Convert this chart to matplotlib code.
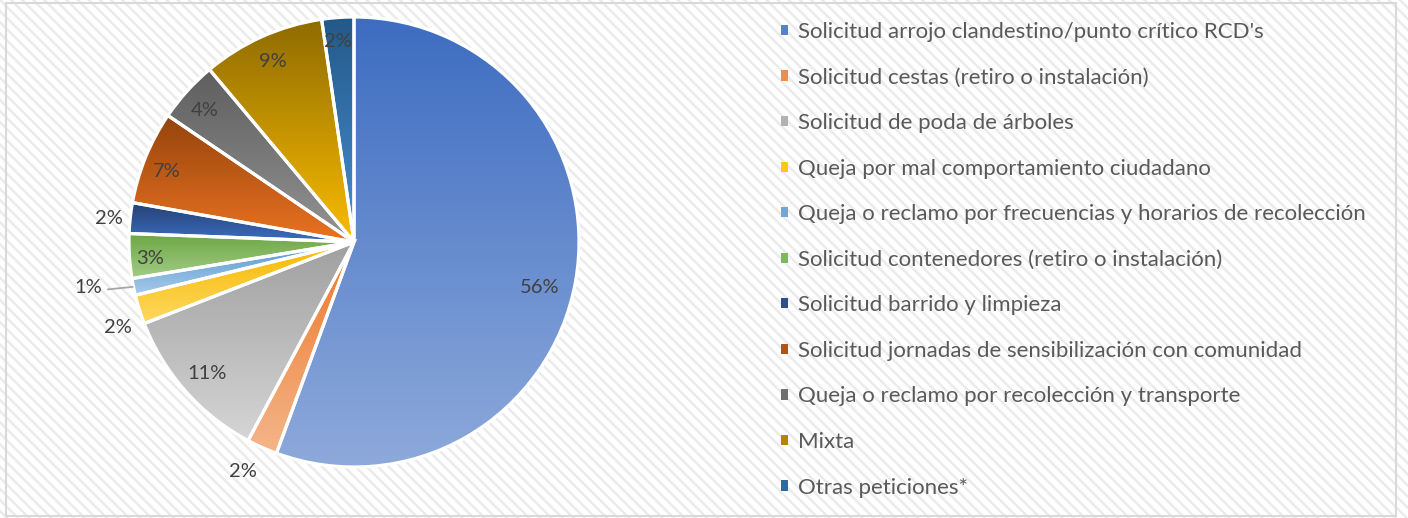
import colorsys
import numpy as np
import matplotlib
matplotlib.use('Agg')
import matplotlib.pyplot as plt
from matplotlib.patches import Rectangle, Patch
from matplotlib.colors import LinearSegmentedColormap, to_rgb

categories = [
    "Solicitud arrojo clandestino/punto crítico RCD's",
    "Solicitud cestas (retiro o instalación)",
    "Solicitud de poda de árboles",
    "Queja por mal comportamiento ciudadano",
    "Queja o reclamo por frecuencias y horarios de recolección",
    "Solicitud contenedores (retiro o instalación)",
    "Solicitud barrido y limpieza",
    "Solicitud jornadas de sensibilización con comunidad",
    "Queja o reclamo por recolección y transporte",
    "Mixta",
    "Otras peticiones*",
]
values = [55.6, 2.2, 11.3, 2.1, 1.2, 3.2, 2.2, 6.7, 4.4, 8.8, 2.3]
colors = ['#4472C4', '#ED7D31', '#A5A5A5', '#FFC000', '#5B9BD5', '#70AD47',
          '#264478', '#9E480E', '#636363', '#997300', '#255E91']

# percent label placement: distance (fraction of radius) and angle nudge (deg)
label_dist = [0.85, 1.135, 0.878, 1.116, 1.2, 0.909, 1.094, 0.887, 0.882, 0.877, 0.896]
label_nudge = [-3.7, -1.7, 0.3, 2.5, -1.9, 0.9, 0.7, 1.6, 0.8, 0.0, 0.5]

plt.rcParams['font.family'] = ['Lato', 'DejaVu Sans']
plt.rcParams['hatch.linewidth'] = 1.8


def shade(c, dl):
    h, l, s = colorsys.rgb_to_hls(*to_rgb(c))
    l = min(max(l + dl, 0), 0.95)
    return colorsys.hls_to_rgb(h, l, s)


W, H = 1408, 518
fig = plt.figure(figsize=(W / 100, H / 100), dpi=100)

# hatched chart background + border
bg = Rectangle((0, 0), 1, 1, transform=fig.transFigure, facecolor='white',
               edgecolor='#EBEBEB', hatch='\\\\\\', linewidth=0, zorder=-10)
fig.add_artist(bg)
border = Rectangle((6 / W, 2 / H), 1390 / W, 513 / H, transform=fig.transFigure,
                   facecolor='none', edgecolor='#D9D9D9', linewidth=1.5, zorder=-9)
fig.add_artist(border)

ax = fig.add_axes([129 / W, 51 / H, 450 / W, 450 / H])
ax.patch.set_visible(False)

wedges, _ = ax.pie(values, startangle=90, counterclock=False, radius=1,
                   wedgeprops=dict(edgecolor='white', linewidth=2.3))

# vertical gradient inside each slice (dark top -> light bottom)
grad = np.linspace(0, 1, 256)[:, None]
for w, c in zip(wedges, colors):
    ext = w.get_path().get_extents()
    cmap = LinearSegmentedColormap.from_list('g', [shade(c, -0.02), shade(c, 0.19)])
    im = ax.imshow(grad, cmap=cmap, extent=(ext.x0, ext.x1, ext.y0, ext.y1),
                   origin='upper', aspect='auto', interpolation='bilinear', zorder=1)
    im.set_clip_path(w)
    w.set_facecolor('none')
    w.set_zorder(2)

total = sum(values)
cum = 0
for i, v in enumerate(values):
    mid = 90 - (cum + v / 2) / total * 360
    cum += v
    r = label_dist[i]
    a = np.radians(mid + label_nudge[i])
    x, y = r * np.cos(a), r * np.sin(a)
    ax.text(x, y, f'{v / total * 100:.0f}%', ha='center', va='center',
            fontsize=14.5, color='#404040', zorder=5)
    if r > 1.15:
        ex, ey = np.cos(np.radians(mid)), np.sin(np.radians(mid))
        ax.plot([x + 0.09, ex - 0.005], [y - 0.01, ey], color='#A6A6A6', lw=1.3,
                zorder=4, clip_on=False)

ax.set_xlim(-1, 1)
ax.set_ylim(-1, 1)
ax.set_aspect('equal')
ax.axis('off')

handles = [Patch(facecolor=shade(c, 0.05), edgecolor='none') for c in colors]
fig.legend(handles, categories, loc='upper left', bbox_to_anchor=(781 / W, 1 - 22 / H),
           frameon=False, fontsize=16.0, labelcolor='#595959', borderpad=0,
           handlelength=0.33, handleheight=0.33, handletextpad=0.45,
           labelspacing=1.15, borderaxespad=0)

fig.savefig('out.png', dpi=100)
